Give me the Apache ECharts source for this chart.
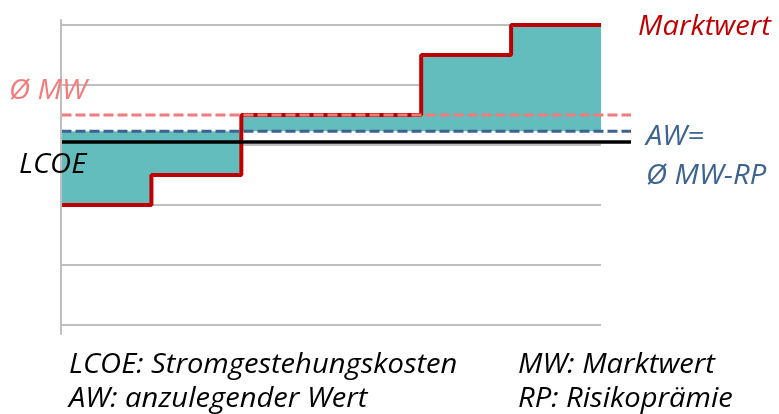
<!DOCTYPE html>
<html>
<head>
<meta charset="utf-8">
<style>
  html, body { margin: 0; padding: 0; background: #ffffff; }
  #chart { width: 779px; height: 414px; }
</style>
<script src="https://cdn.jsdelivr.net/npm/echarts@6/dist/echarts.min.js"></script>
</head>
<body>
<div id="chart"></div>
<script>
// Market value per period (six equal periods)
const periodStarts = [0, 1, 2, 3, 4, 5];
const marketValue = [2.0, 2.5, 3.5, 3.5, 4.5, 5.0];
// Reference levels
const avgMarketValue = 3.5;   // Ø MW
const applicableValue = 3.23; // AW = Ø MW - RP
const lcoe = 3.05;            // LCOE
// Value-axis grid levels
const yTicks = [0, 1, 2, 3, 4, 5];

// Labels
const labelMarket = 'Marktwert';
const labelAvg = 'Ø MW';
const labelLcoe = 'LCOE';
const labelAw1 = 'AW=';
const labelAw2 = 'Ø MW-RP';
const legendLeft = ['LCOE: Stromgestehungskosten', 'AW: anzulegender Wert'];
const legendRight = ['MW: Marktwert', 'RP: Risikoprämie'];

// Layout / styling
const periodCount = periodStarts.length;
const refLineEnd = periodCount + 1 / 3; // reference lines run a bit past the last period
const FONT = '"Open Sans", "Noto Sans", sans-serif';
const FS = 27;
const STRETCH = 1.08;
const RED = '#C00000';
const PINK = '#F47B7B';
const BLUE = '#3D6391';
const TEAL = '#63BDBD';
const GRID = '#BFBFBF';

const stepData = marketValue.map((v, i) => [periodStarts[i], v]);
stepData.push([periodCount, marketValue[marketValue.length - 1]]);

function hLine(v) { return [[0, v], [refLineEnd, v]]; }

const chart = echarts.init(document.getElementById('chart'), null, { renderer: 'canvas' });

function txt(text, x, y, color) {
  return {
    type: 'text', x: x, y: y, z: 100, scaleX: STRETCH,
    style: { text: text, fill: color, font: 'italic ' + FS + 'px ' + FONT, verticalAlign: 'middle' }
  };
}

chart.setOption({
  animation: false,
  backgroundColor: '#ffffff',
  grid: [
    { left: 61.5, top: 25, width: 569.5, height: 300 },
    { left: 60.5, top: 20, width: 540, height: 314 }
  ],
  xAxis: [
    { type: 'value', gridIndex: 0, min: 0, max: refLineEnd, show: false },
    { type: 'value', gridIndex: 1, min: 0, max: 1, show: false }
  ],
  yAxis: [
    {
      type: 'value', gridIndex: 0, min: yTicks[0], max: yTicks[yTicks.length - 1],
      axisLine: { show: false }, axisTick: { show: false }, axisLabel: { show: false },
      splitLine: { show: false }
    },
    {
      type: 'value', gridIndex: 1, min: 0, max: 1, z: 10,
      axisLine: { show: true, lineStyle: { color: GRID, width: 2 } },
      axisTick: { show: false }, axisLabel: { show: false }, splitLine: { show: false }
    }
  ],
  series: [
    {
      // horizontal grid lines across the periods
      type: 'custom', z: 0,
      data: yTicks.map(v => [0, v]),
      renderItem: function (params, api) {
        const v = api.value(1);
        const a = api.coord([0, v]);
        const b = api.coord([periodCount, v]);
        return {
          type: 'line',
          shape: { x1: a[0] - 1.5, y1: a[1], x2: b[0], y2: b[1] },
          style: { stroke: GRID, lineWidth: 2 }
        };
      }
    },
    {
      // gap between market value and AW, per period
      type: 'custom', z: 1,
      data: stepData.slice(0, periodCount),
      renderItem: function (params, api) {
        const x = api.value(0), v = api.value(1);
        const p0 = api.coord([x, v]);
        const p1 = api.coord([x + 1, applicableValue]);
        const x0 = Math.round(p0[0]), x1 = Math.round(p1[0]);
        return {
          type: 'rect',
          shape: { x: x0, y: Math.min(p0[1], p1[1]), width: x1 - x0, height: Math.abs(p1[1] - p0[1]) },
          style: { fill: TEAL }
        };
      }
    },
    {
      type: 'line', name: labelMarket, step: 'end',
      data: stepData, symbol: 'none', z: 3,
      lineStyle: { color: RED, width: 4 }
    },
    {
      type: 'line', name: labelLcoe, data: hLine(lcoe), symbol: 'none', z: 4,
      lineStyle: { color: '#000000', width: 3.5 }
    },
    {
      type: 'line', name: 'AW', data: hLine(applicableValue), symbol: 'none', z: 4,
      lineStyle: { color: BLUE, width: 3, type: [10, 4] }
    },
    {
      type: 'line', name: labelAvg, data: hLine(avgMarketValue), symbol: 'none', z: 5,
      lineStyle: { color: PINK, width: 3, type: [10, 4] }
    }
  ],
  graphic: [
    txt(labelMarket, 638, 27.5, RED),
    txt(labelAvg, 9, 91.5, PINK),
    txt(labelLcoe, 19, 165, '#000000'),
    txt(labelAw1, 646, 137, BLUE),
    txt(labelAw2, 646, 176.5, BLUE),
    txt(legendLeft[0], 69, 365.5, '#000000'),
    txt(legendLeft[1], 69, 399, '#000000'),
    txt(legendRight[0], 518, 365.5, '#000000'),
    txt(legendRight[1], 518, 399, '#000000')
  ]
});
</script>
</body>
</html>
